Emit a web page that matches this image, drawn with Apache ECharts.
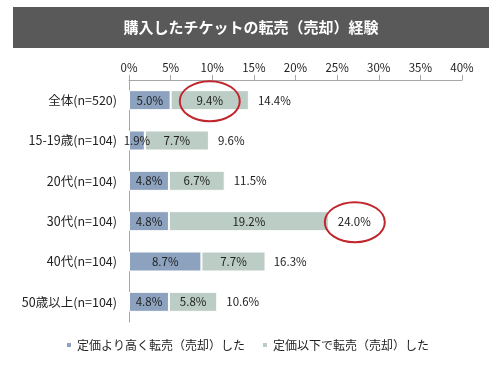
<!DOCTYPE html>
<html><head><meta charset="utf-8">
<script src="https://cdn.jsdelivr.net/npm/echarts@6/dist/echarts.min.js"></script>
<style>html,body{margin:0;padding:0;background:#fff}#c{width:504px;height:374px}</style>
</head><body><div id="c"></div>
<script>
const titleText = '購入したチケットの転売（売却）経験';
const categories = ['全体(n=520)', '15-19歳(n=104)', '20代(n=104)', '30代(n=104)', '40代(n=104)', '50歳以上(n=104)'];
const seriesNames = ['定価より高く転売（売却）した', '定価以下で転売（売却）した'];
const aboveList = [5.0, 1.9, 4.8, 4.8, 8.7, 4.8];
const belowList = [9.4, 7.7, 6.7, 19.2, 7.7, 5.8];
const totals = [14.4, 9.6, 11.5, 24.0, 16.3, 10.6];
const xTicks = [0, 5, 10, 15, 20, 25, 30, 35, 40];
// annotations: [series index, category index]
const highlights = [['below', 0], ['total', 3]];

const FONT = '"Noto Sans CJK JP", "Noto Sans", sans-serif';
const chart = echarts.init(document.getElementById('c'));
const lbl = {show: true, position: 'inside', color: '#222', fontSize: 11.5, fontFamily: FONT, formatter: p => p.value.toFixed(1) + '%'};
chart.setOption({
  animation: false,
  textStyle: {fontFamily: FONT},
  grid: {left: 129, right: 42, top: 80, bottom: 52},
  xAxis: {
    type: 'value', position: 'top', min: xTicks[0], max: xTicks[xTicks.length - 1], interval: 5,
    axisLine: {show: true, lineStyle: {color: '#a6a6a6'}},
    axisTick: {show: true, length: 5, lineStyle: {color: '#a6a6a6'}},
    axisLabel: {formatter: '{value}%', color: '#222', fontSize: 11.5, margin: 7},
    splitLine: {show: false}
  },
  yAxis: {
    type: 'category', inverse: true, data: categories,
    axisLine: {lineStyle: {color: '#a6a6a6'}},
    axisTick: {length: 5, lineStyle: {color: '#a6a6a6'}},
    axisLabel: {color: '#222', fontSize: 12.5, margin: 12}
  },
  legend: {
    data: seriesNames, bottom: 18, left: 60, itemWidth: 6, itemHeight: 6, itemGap: 16,
    icon: 'rect', textStyle: {color: '#222', fontSize: 12, fontFamily: FONT}
  },
  series: [
    {name: seriesNames[0], type: 'bar', stack: 's', data: aboveList, barWidth: 20,
      itemStyle: {color: '#8ca2bf', borderColor: '#fff', borderWidth: 1}, label: lbl},
    {name: seriesNames[1], type: 'bar', stack: 's', data: belowList, barWidth: 20,
      itemStyle: {color: '#bccdc6', borderColor: '#fff', borderWidth: 1}, label: lbl},
    {name: 'total', type: 'bar', data: totals, barWidth: 20, barGap: '-100%', z: 1,
      itemStyle: {color: 'rgba(0,0,0,0)'}, silent: true,
      label: {show: true, position: 'right', distance: 9, color: '#222', fontSize: 11.5, fontFamily: FONT, formatter: p => p.value.toFixed(1) + '%'}}
  ]
});

function centerOf(kind, i) {
  let x;
  if (kind === 'below') x = aboveList[i] + belowList[i] / 2;
  else x = totals[i];
  return chart.convertToPixel({gridIndex: 0}, [x, i]);
}
const ellipses = highlights.map(([kind, i]) => {
  const p = centerOf(kind, i);
  const cx = kind === 'total' ? p[0] + 26 : p[0];
  return {type: 'ellipse', shape: {cx: cx, cy: p[1] + 1, rx: 30, ry: 20},
    style: {fill: 'none', stroke: '#c0272d', lineWidth: 2}, z: 100};
});
chart.setOption({
  graphic: [
    {type: 'rect', shape: {x: 13, y: 7, width: 476, height: 41}, style: {fill: '#595959'}, z: 0},
    {type: 'text', x: 251, y: 27, style: {text: titleText, fill: '#fff', font: 'bold 15px ' + FONT, textAlign: 'center', textVerticalAlign: 'middle'}, z: 1},
    ...ellipses
  ]
});
</script></body></html>
